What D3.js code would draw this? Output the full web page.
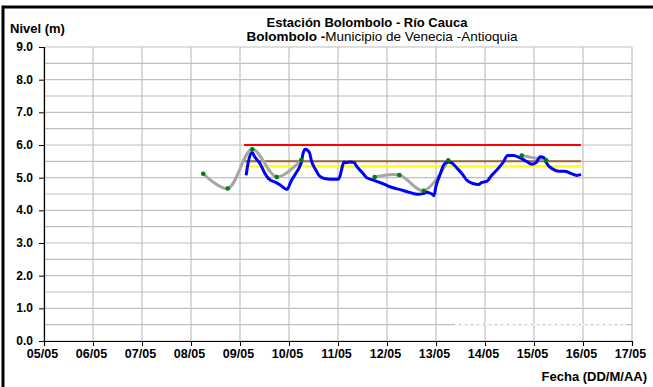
<!DOCTYPE html>
<html>
<head>
<meta charset="utf-8">
<script src="https://cdn.jsdelivr.net/npm/d3@7/dist/d3.min.js"></script>
<style>
  html, body { margin: 0; padding: 0; background: #fff; }
  svg { display: block; font-family: "Liberation Sans", Arial, sans-serif; }
</style>
</head>
<body>
<svg id="chart" width="653" height="387"></svg>
<script>
// ---------------- DATA ----------------
const yTickValues = [0, 1, 2, 3, 4, 5, 6, 7, 8, 9];
const xTickLabels = ["05/05","06/05","07/05","08/05","09/05","10/05","11/05","12/05","13/05","14/05","15/05","16/05","17/05"];

// Manual readings (grey smoothed line with green markers); null = missing
const manualTimes = ["08/05 06:00","08/05 18:00","09/05 06:00","09/05 18:00","10/05 06:00","10/05 18:00",
                     "11/05 06:00","11/05 18:00","12/05 06:00","12/05 18:00","13/05 06:00","13/05 18:00",
                     "14/05 06:00","14/05 18:00","15/05 06:00"];
const manualValues = [5.12, 4.67, 5.87, 5.02, 5.54, null, null, 5.02, 5.08, 4.60, 5.53, null, null, 5.68, 5.53];

// Automatic sensor readings (blue line)
const sensorTimes = [
  "09/05 03:00","09/05 04:00","09/05 06:00","09/05 07:00","09/05 10:00","09/05 12:00","09/05 14:00","09/05 18:00","09/05 20:00","09/05 23:00",
  "10/05 01:00","10/05 03:00","10/05 05:00","10/05 06:00","10/05 07:00","10/05 08:00","10/05 10:00","10/05 11:00","10/05 13:00","10/05 15:00","10/05 18:00","10/05 22:00",
  "11/05 00:00","11/05 01:00","11/05 02:00","11/05 03:00","11/05 04:00","11/05 06:00","11/05 08:00","11/05 09:00","11/05 12:00","11/05 14:00","11/05 17:00","11/05 21:00",
  "12/05 00:00","12/05 03:00","12/05 06:00","12/05 11:00","12/05 15:00","12/05 18:00","12/05 19:00","12/05 22:00","12/05 23:00",
  "13/05 00:00","13/05 02:00","13/05 04:00","13/05 06:00","13/05 08:00","13/05 10:00","13/05 13:00","13/05 15:00","13/05 18:00","13/05 21:00","13/05 22:00",
  "14/05 01:00","14/05 03:00","14/05 06:00","14/05 09:00","14/05 11:00","14/05 14:00","14/05 17:00","14/05 20:00","14/05 23:00",
  "15/05 01:00","15/05 03:00","15/05 05:00","15/05 06:00","15/05 09:00","15/05 12:00","15/05 15:00","15/05 18:00","15/05 21:00","15/05 23:00"
];
const sensorValues = [
  5.07, 5.46, 5.77, 5.66, 5.41, 5.15, 4.97, 4.84, 4.76, 4.64,
  4.89, 5.10, 5.31, 5.46, 5.77, 5.87, 5.77, 5.51, 5.25, 5.05, 4.97, 4.95,
  4.95, 5.05, 5.31, 5.48, 5.46, 5.48, 5.46, 5.36, 5.15, 5.00, 4.93, 4.84,
  4.76, 4.69, 4.64, 4.55, 4.49, 4.52, 4.55, 4.50, 4.45,
  4.74, 5.10, 5.41, 5.48, 5.44, 5.31, 5.10, 4.93, 4.82, 4.79, 4.84,
  4.89, 5.05, 5.25, 5.48, 5.68, 5.68, 5.61, 5.51, 5.41,
  5.46, 5.64, 5.61, 5.46, 5.27, 5.20, 5.20, 5.13, 5.07, 5.10
];

// Alert threshold lines
const thresholdNames  = ["Rojo", "Naranja", "Amarillo"];
const thresholdValues = [6.0, 5.5, 5.35];
const thresholdColors = ["#ff0000", "#996633", "#ffff00"];
const thresholdStart = "09/05 02:00";
const thresholdEnd   = "15/05 23:00";

// ---------------- CHART ----------------
const parse = d3.timeParse("%d/%m %H:%M");
const parseDay = d3.timeParse("%d/%m");
const svg = d3.select("#chart");

const m = { left: 44, right: 632, top: 47, bottom: 341 };
const x = d3.scaleTime()
  .domain([parseDay(xTickLabels[0]), parseDay(xTickLabels[xTickLabels.length - 1])])
  .range([m.left, m.right]);
const y = d3.scaleLinear().domain([0, 9]).range([m.bottom, m.top]);

// Outer frame (partly visible)
svg.append("rect").attr("x", 3).attr("y", 7).attr("width", 700).attr("height", 420)
  .attr("fill", "none").attr("stroke", "#000").attr("stroke-width", 3);

// Gridlines
const g = svg.append("g");
const hGrid = d3.range(0, 9.01, 0.5);
g.selectAll("line.h").data(hGrid).join("line")
  .attr("x1", m.left).attr("x2", m.right)
  .attr("y1", d => y(d)).attr("y2", d => y(d))
  .attr("stroke", "#c0c0c0").attr("stroke-width", 1.2);
const dayTicks = xTickLabels.map(parseDay);
g.selectAll("line.v").data(dayTicks).join("line")
  .attr("x1", d => x(d)).attr("x2", d => x(d))
  .attr("y1", m.top).attr("y2", m.bottom)
  .attr("stroke", "#c0c0c0").attr("stroke-width", 1.2);

// faint dashed artefact at 0.5
g.append("line").attr("x1", 455).attr("x2", 626).attr("y1", y(0.5)).attr("y2", y(0.5))
  .attr("stroke", "#ffffff").attr("stroke-width", 1.2).attr("stroke-dasharray", "4,2");

// Axes
const yAxis = d3.axisLeft(y).tickValues(yTickValues).tickFormat(d3.format(".1f"))
  .tickSize(5).tickPadding(6);
const ya = svg.append("g").attr("transform", `translate(${m.left},0)`).call(yAxis);
ya.select(".domain").attr("stroke", "#000").attr("stroke-width", 1.2);
ya.selectAll(".tick line").attr("stroke", "#000");
ya.selectAll("text").attr("font-size", 12).attr("font-weight", "bold").attr("fill", "#000")
  .attr("dy", "0.28em");

const xAxis = d3.axisBottom(x).tickValues(dayTicks).tickFormat(d3.timeFormat("%d/%m"))
  .tickSize(5).tickPadding(3);
const xa = svg.append("g").attr("transform", `translate(0,${m.bottom})`).call(xAxis);
xa.select(".domain").attr("stroke", "#000").attr("stroke-width", 1.2);
xa.selectAll(".tick line").attr("stroke", "#000");
xa.selectAll("text").attr("font-size", 12.5).attr("font-weight", "bold").attr("fill", "#000")
  .attr("dx", -2);

// Threshold lines
const tStart = parse(thresholdStart), tEnd = parse(thresholdEnd);
svg.append("g").selectAll("line").data(thresholdValues).join("line")
  .attr("x1", x(tStart)).attr("x2", x(tEnd))
  .attr("y1", d => y(d)).attr("y2", d => y(d))
  .attr("stroke", (d, i) => thresholdColors[i]).attr("stroke-width", 2);

// Manual series (grey smoothed)
const manual = manualTimes.map((t, i) => ({ t: parse(t), v: manualValues[i] }));
const lineManual = d3.line().defined(d => d.v != null)
  .x(d => x(d.t)).y(d => y(d.v)).curve(d3.curveCatmullRom.alpha(0.5));
svg.append("path").datum(manual).attr("d", lineManual)
  .attr("fill", "none").attr("stroke", "#a6a6a6").attr("stroke-width", 3);

// Sensor series (blue)
const sensor = sensorTimes.map((t, i) => ({ t: parse(t), v: sensorValues[i] }));
const lineSensor = d3.line().x(d => x(d.t)).y(d => y(d.v)).curve(d3.curveMonotoneX);
svg.append("path").datum(sensor).attr("d", lineSensor)
  .attr("fill", "none").attr("stroke", "#0000ff").attr("stroke-width", 3)
  .attr("stroke-linejoin", "round");

// Markers for manual readings
svg.append("g").selectAll("circle").data(manual.filter(d => d.v != null)).join("circle")
  .attr("cx", d => x(d.t)).attr("cy", d => y(d.v)).attr("r", 2.3)
  .attr("fill", "#008000");

// Texts
svg.append("text").attr("x", 367).attr("y", 27).attr("text-anchor", "middle")
  .attr("font-size", 13).attr("font-weight", "bold").text("Estación Bolombolo - Río Cauca");
const t2 = svg.append("text").attr("x", 382).attr("y", 41).attr("text-anchor", "middle")
  .attr("font-size", 13.5);
t2.append("tspan").attr("font-weight", "bold").text("Bolombolo -");
t2.append("tspan").text("Municipio de Venecia -Antioquia");

svg.append("text").attr("x", 10).attr("y", 33).attr("font-size", 13).attr("font-weight", "bold")
  .text("Nivel (m)");
svg.append("text").attr("x", 647).attr("y", 381).attr("text-anchor", "end")
  .attr("font-size", 13).attr("font-weight", "bold").text("Fecha (DD/M/AA)");
</script>
</body>
</html>
